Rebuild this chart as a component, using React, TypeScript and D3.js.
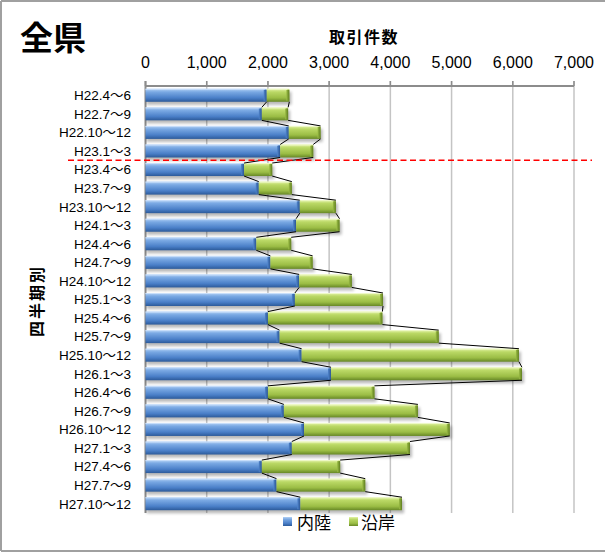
import React from 'react';
import * as d3 from 'd3';

const categories = [
  'H22.4～6', 'H22.7～9', 'H22.10～12', 'H23.1～3', 'H23.4～6', 'H23.7～9',
  'H23.10～12', 'H24.1～3', 'H24.4～6', 'H24.7～9', 'H24.10～12', 'H25.1～3',
  'H25.4～6', 'H25.7～9', 'H25.10～12', 'H26.1～3', 'H26.4～6', 'H26.7～9',
  'H26.10～12', 'H27.1～3', 'H27.4～6', 'H27.7～9', 'H27.10～12',
];
const inland = [
  1980, 1900, 2340, 2200, 1610, 1850, 2520, 2460, 1810, 2040, 2510, 2440,
  2000, 2190, 2550, 3030, 2000, 2260, 2590, 2390, 1900, 2140, 2530,
];
const coastal = [
  370, 430, 520, 540, 460, 540, 590, 710, 570, 690, 860, 1440,
  1870, 2600, 3550, 3120, 1740, 2190, 2380, 1930, 1280, 1450, 1660,
];
const xTicks = [0, 1000, 2000, 3000, 4000, 5000, 6000, 7000];
const seriesNames = ['内陸', '沿岸'];
const title = '全県';
const xTitle = '取引件数';
const yTitle = '四半期別';
const markerAfter = 'H23.1～3';

const latin = '"Liberation Sans", "Noto Sans CJK JP", sans-serif';
const cjk = '"Noto Sans CJK JP", sans-serif';

export default function App() {
  const W = 605;
  const H = 553;
  const x = d3.scaleLinear().domain([0, 7000]).range([145.5, 574]);
  const y = d3
    .scaleBand<string>()
    .domain(categories)
    .range([86, 513])
    .paddingInner(0.3)
    .paddingOuter(0.15);
  const bw = y.bandwidth();
  const fmt = d3.format(',');
  const totals = inland.map((v, i) => v + coastal[i]);

  const seriesLine = (ends: number[]) => {
    const segs: string[] = [];
    for (let i = 0; i < categories.length - 1; i++) {
      const x1 = x(ends[i]);
      const y1 = (y(categories[i]) as number) + bw;
      const x2 = x(ends[i + 1]);
      const y2 = y(categories[i + 1]) as number;
      segs.push(`M${x1},${y1}L${x2},${y2}`);
    }
    return segs.join('');
  };

  const mi = categories.indexOf(markerAfter);
  const markerY =
    ((y(categories[mi]) as number) + bw + (y(categories[mi + 1]) as number)) / 2;

  const [y0, y1] = y.range();

  return (
    <svg
      width={W}
      height={H}
      style={{ position: 'absolute', left: 0, top: 0, background: '#fff' }}
    >
      <defs>
        <linearGradient id="gBlue" x1="0" y1="0" x2="0" y2="1">
          <stop offset="0" stopColor="#b3d1f5" />
          <stop offset="0.25" stopColor="#79a8e3" />
          <stop offset="0.7" stopColor="#4a7fc8" />
          <stop offset="1" stopColor="#2c5a9a" />
        </linearGradient>
        <linearGradient id="gGreen" x1="0" y1="0" x2="0" y2="1">
          <stop offset="0" stopColor="#e4f3a8" />
          <stop offset="0.25" stopColor="#bad865" />
          <stop offset="0.7" stopColor="#9bbd45" />
          <stop offset="1" stopColor="#678826" />
        </linearGradient>
        <linearGradient id="gBlueEnd" x1="0" y1="0" x2="1" y2="0">
          <stop offset="0" stopColor="#4f84cc" />
          <stop offset="1" stopColor="#2b5592" />
        </linearGradient>
        <linearGradient id="gGreenEnd" x1="0" y1="0" x2="1" y2="0">
          <stop offset="0" stopColor="#9bbd45" />
          <stop offset="1" stopColor="#5f7d20" />
        </linearGradient>
        <filter id="shadow" x="-5%" y="-50%" width="110%" height="200%">
          <feGaussianBlur stdDeviation="1.4" />
        </filter>
      </defs>

      {/* frame */}
      <line x1={1} y1={1} x2={W} y2={1} stroke="#a0a0a0" strokeWidth={2} />
      <line x1={1} y1={1} x2={1} y2={551} stroke="#a0a0a0" strokeWidth={2} />
      <line x1={1} y1={551} x2={W} y2={551} stroke="#a0a0a0" strokeWidth={2} />

      {/* title */}
      <text x={20} y={50} fontFamily={cjk} fontWeight="bold" fontSize={33} fill="#000">
        {title}
      </text>
      <text
        x={364}
        y={43}
        textAnchor="middle"
        fontFamily={cjk}
        fontWeight="bold"
        fontSize={16}
        letterSpacing={1.5}
        fill="#000"
      >
        {xTitle}
      </text>

      {/* gridlines */}
      {xTicks.map((t) => (
        <line
          key={'g' + t}
          x1={x(t)}
          x2={x(t)}
          y1={y0 - 5}
          y2={y1}
          stroke={t === 0 ? '#8c8c8c' : '#c4c4c4'}
          strokeWidth={t === 0 ? 2 : 1.5}
        />
      ))}
      <line x1={x(0)} x2={x(7000)} y1={y0} y2={y0} stroke="#8c8c8c" strokeWidth={2} />
      {xTicks.map((t) => (
        <line
          key={'t' + t}
          x1={x(t)}
          x2={x(t)}
          y1={y0 - 5}
          y2={y0}
          stroke="#8c8c8c"
          strokeWidth={1.5}
        />
      ))}
      {xTicks.map((t) => (
        <text
          key={'l' + t}
          x={x(t)}
          y={68}
          textAnchor="middle"
          fontFamily={latin}
          fontSize={16}
          fill="#000"
        >
          {fmt(t)}
        </text>
      ))}

      {/* shadows */}
      {categories.map((c, i) => (
        <rect
          key={'s' + c}
          x={x(0) + 1}
          y={(y(c) as number) + 3}
          width={x(totals[i]) - x(0) + 1}
          height={bw}
          fill="#000"
          opacity={0.28}
          filter="url(#shadow)"
        />
      ))}

      {/* bars */}
      {categories.map((c, i) => {
        const by = y(c) as number;
        const xb = x(inland[i]);
        const xt = x(totals[i]);
        return (
          <g key={'b' + c}>
            <rect x={x(0)} y={by} width={xb - x(0)} height={bw} fill="url(#gBlue)" />
            <rect x={xb - 3} y={by + 1} width={3} height={bw - 2} fill="url(#gBlueEnd)" />
            <rect x={xb} y={by} width={xt - xb} height={bw} fill="url(#gGreen)" />
            <rect x={xt - 3} y={by + 1} width={3} height={bw - 2} fill="url(#gGreenEnd)" />
            <line x1={x(0)} x2={xb - 2} y1={by + 0.5} y2={by + 0.5} stroke="#c8defa" strokeWidth={1} />
            <line x1={xb + 1} x2={xt - 2} y1={by + 0.5} y2={by + 0.5} stroke="#eef8c8" strokeWidth={1} />
          </g>
        );
      })}

      {/* series lines */}
      <path d={seriesLine(inland)} stroke="#000" strokeWidth={1} fill="none" />
      <path d={seriesLine(totals)} stroke="#000" strokeWidth={1} fill="none" />

      {/* category labels */}
      {categories.map((c) => (
        <text
          key={'c' + c}
          x={131}
          y={(y(c) as number) + bw / 2}
          dy="0.36em"
          textAnchor="end"
          fontFamily={latin}
          fontSize={13.5}
          fill="#000"
        >
          {c}
        </text>
      ))}

      {/* y title */}
      <text
        transform={`translate(43,${301}) rotate(-90)`}
        textAnchor="middle"
        fontFamily={cjk}
        fontWeight="bold"
        fontSize={16}
        letterSpacing={2}
        fill="#000"
      >
        {yTitle}
      </text>

      {/* red dashed marker */}
      <line
        x1={68}
        x2={592}
        y1={markerY}
        y2={markerY}
        stroke="#ff0000"
        strokeWidth={1.5}
        strokeDasharray="6,3.5"
      />

      {/* legend */}
      <rect x={283} y={517} width={9} height={9} fill="url(#gBlue)" />
      <text x={297} y={529} fontFamily={cjk} fontSize={17} fill="#000">
        {seriesNames[0]}
      </text>
      <rect x={349} y={517} width={9} height={9} fill="url(#gGreen)" />
      <text x={361} y={529} fontFamily={cjk} fontSize={17} fill="#000">
        {seriesNames[1]}
      </text>
    </svg>
  );
}
